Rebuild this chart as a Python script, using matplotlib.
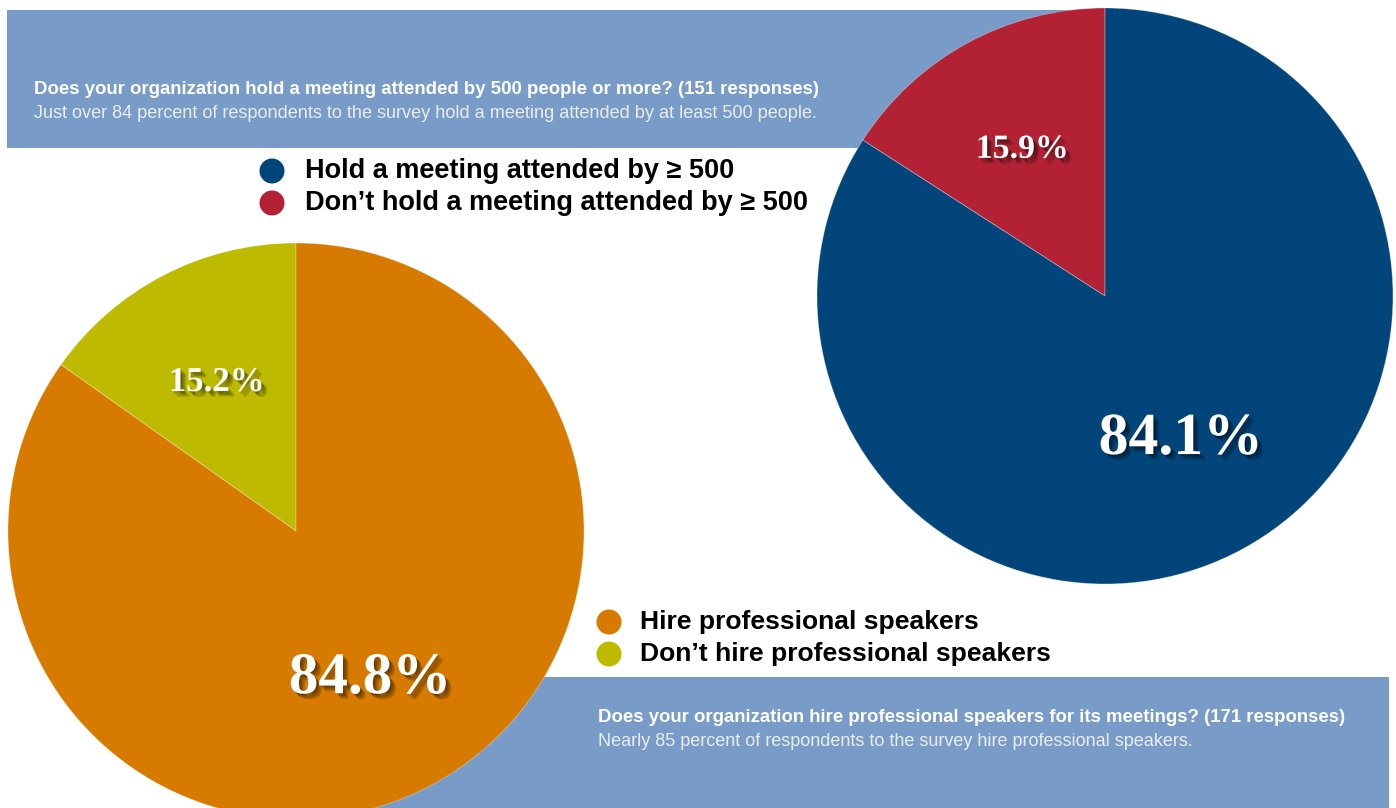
import matplotlib
matplotlib.use("Agg")
import matplotlib.pyplot as plt
import matplotlib.patheffects as pe
from matplotlib.patches import Rectangle, Circle
import numpy as np

# ---- data ----
meeting_labels = ["Don\u2019t hold a meeting attended by \u2265 500", "Hold a meeting attended by \u2265 500"]
meeting_values = [15.9, 84.1]
meeting_colors = ["#B22234", "#02457A"]

speaker_labels = ["Don\u2019t hire professional speakers", "Hire professional speakers"]
speaker_values = [15.2, 84.8]
speaker_colors = ["#BEBA00", "#D67A00"]

meeting_title = "Does your organization hold a meeting attended by 500 people or more? (151 responses)"
meeting_note = "Just over 84 percent of respondents to the survey hold a meeting attended by at least 500 people."
speaker_title = "Does your organization hire professional speakers for its meetings? (171 responses)"
speaker_note = "Nearly 85 percent of respondents to the survey hire professional speakers."

W, H = 1396, 808
BANNER = "#789BC7"
NOTE_COLOR = "#E8EEF6"
NARROW = ["Liberation Sans Narrow", "Liberation Sans", "DejaVu Sans"]
SANS = ["Liberation Sans", "DejaVu Sans"]
SERIF = ["Liberation Serif", "DejaVu Serif"]

fig = plt.figure(figsize=(W / 100, H / 100), dpi=100)
ax = fig.add_axes([0, 0, 1, 1])
ax.set_xlim(0, W)
ax.set_ylim(0, H)
ax.set_aspect("equal")
ax.axis("off")
renderer = fig.canvas.get_renderer()


def Y(y):
    """Convert a top-down pixel row into axes data units."""
    return H - y


def fit_text(x, y, s, width, fontsize, **kw):
    """Place text and rescale its size so it spans the given pixel width."""
    t = ax.text(x, Y(y), s, fontsize=fontsize, **kw)
    bb = t.get_window_extent(renderer=renderer)
    t.set_fontsize(fontsize * width / bb.width)
    return t


# soft drop shadow built from a few stacked offsets
shadow = [pe.SimplePatchShadow(offset=(d, -d), shadow_rgbFace="black", alpha=0.16)
          for d in (1.0, 2.0, 3.0, 4.0)] + [pe.Normal()]

# ---- banners ----
ax.add_patch(Rectangle((7, Y(148)), 1100, 138, facecolor=BANNER, edgecolor="none", zorder=1))
ax.add_patch(Rectangle((300, 0), 1089, H - 677, facecolor=BANNER, edgecolor="none", zorder=1))

fit_text(34, 89, meeting_title, 786, 12, family=NARROW, weight="bold", color="white",
         va="center", ha="left", zorder=5)
fit_text(34, 113, meeting_note, 788, 12, family=NARROW, color=NOTE_COLOR,
         va="center", ha="left", zorder=5)
fit_text(598, 717, speaker_title, 745, 12, family=NARROW, weight="bold", color="white",
         va="center", ha="left", zorder=5)
fit_text(598, 741, speaker_note, 594, 12, family=NARROW, color=NOTE_COLOR,
         va="center", ha="left", zorder=5)


def draw_pie(values, colors, center, radius, label_specs):
    wedges, _ = ax.pie(values, colors=colors, startangle=90, counterclock=True,
                       center=(center[0], Y(center[1])), radius=radius,
                       wedgeprops=dict(edgecolor=(1, 1, 1, 0.35), linewidth=0.6, zorder=3))
    for w in wedges:
        w.set_zorder(3)
    for w, v, (frac, width) in zip(wedges, values, label_specs):
        mid = np.deg2rad((w.theta1 + w.theta2) / 2)
        lx = center[0] + frac * radius * np.cos(mid)
        ly = Y(center[1]) + frac * radius * np.sin(mid) - 5
        t = ax.text(lx, ly, f"{v:.1f}%", family=SERIF, weight="bold", color="white",
                    ha="center", va="center", fontsize=20, zorder=6)
        bb = t.get_window_extent(renderer=renderer)
        t.set_fontsize(20 * width / bb.width)
        t.set_path_effects(shadow)


draw_pie(meeting_values, meeting_colors, (1105, 296), 288, [(0.60, 93), (0.55, 164)])
draw_pie(speaker_values, speaker_colors, (296, 531), 288, [(0.60, 96), (0.56, 162)])
ax.set_xlim(0, W)
ax.set_ylim(0, H)


# ---- legends ----
def legend(x_dot, x_text, rows, labels, colors, widths):
    for y, lab, col in zip(rows, labels, colors):
        ax.add_patch(Circle((x_dot, Y(y)), 12.5, facecolor=col, edgecolor="none", zorder=5))
    ts = [ax.text(x_text, Y(y), lab, family=SANS, weight="bold", color="black",
                  ha="left", va="center", fontsize=17, zorder=5) for y, lab in zip(rows, labels)]
    total = sum(t.get_window_extent(renderer=renderer).width for t in ts)
    scale = sum(widths) / total
    for t in ts:
        t.set_fontsize(17 * scale)


legend(272, 305, [171, 203], meeting_labels[::-1], meeting_colors[::-1], [440, 495])
legend(609, 640, [622, 654], speaker_labels[::-1], speaker_colors[::-1], [339, 411])

fig.savefig("out.png", dpi=100, facecolor="white")
